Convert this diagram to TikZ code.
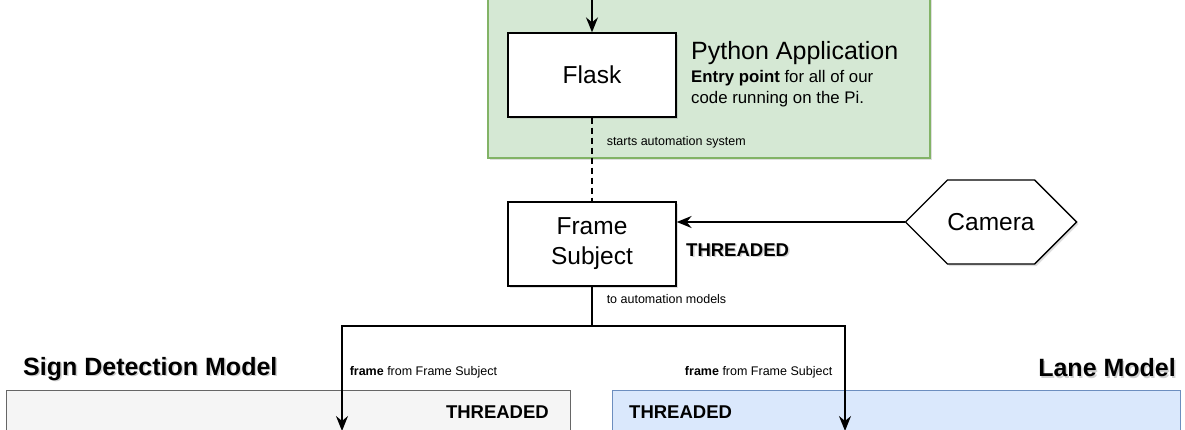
\documentclass[tikz,border=0pt]{standalone}
\usepackage{fontspec}
\setmainfont{Liberation Sans}
\usetikzlibrary{arrows.meta,shapes.symbols,shadows}
\definecolor{grfill}{HTML}{D5E8D4}
\definecolor{grline}{HTML}{82B366}
\definecolor{gyfill}{HTML}{F5F5F5}
\definecolor{gyline}{HTML}{666666}
\definecolor{blfill}{HTML}{DAE8FC}
\definecolor{blline}{HTML}{6C8EBF}
\tikzset{
  shad/.style={drop shadow={opacity=0.25,shadow xshift=2pt,shadow yshift=-2pt}},
  boxnode/.style={draw=black,fill=white,line width=1.3pt,minimum width=168pt,minimum height=84pt,inner sep=0pt,align=center,font=\fontsize{24.5}{30}\selectfont},
  conn/.style={line width=1.5pt,draw=black},
  tip/.style={-{Stealth[length=15pt,width=12pt,inset=5pt]}},
  small/.style={font=\fontsize{12.5}{14}\selectfont,inner sep=0pt},
  thr/.style={font=\fontsize{18.5}{21}\selectfont\bfseries,inner sep=0pt},
  title/.style={font=\fontsize{25}{29}\selectfont\bfseries,inner sep=0pt},
  txtshadow/.style={text=black!18},
}
\begin{document}
\begin{tikzpicture}[x=1pt,y=-1pt]
\useasboundingbox (0,0) rectangle (1185,430);
\clip (0,0) rectangle (1185,430);
% containers
\node[draw=grline,fill=grfill,line width=1.5pt,shad,minimum width=442pt,minimum height=200pt,anchor=south west,inner sep=0pt] (pyapp) at (487,159) {};
\node[draw=gyline,fill=gyfill,line width=1.3pt,minimum width=564pt,minimum height=80pt,anchor=north west,inner sep=0pt] (sign) at (6,390) {};
\node[draw=blline,fill=blfill,line width=1.3pt,minimum width=568pt,minimum height=80pt,anchor=north west,inner sep=0pt] (lane) at (612,390) {};
% nodes
\node[boxnode,shad] (flask) at (592,75) {Flask};
\node[boxnode,shad] (frame) at (592,244) {Frame\\Subject};
\node[draw=black,fill=white,line width=1.3pt,shad,signal,signal to=west and east,signal pointer angle=90,minimum width=168pt,minimum height=84pt,inner sep=0pt,font=\fontsize{24.5}{28}\selectfont] (cam) at (991,222) {Camera};
% texts
\node[anchor=west,inner sep=0pt,font=\fontsize{25}{29}\selectfont] (pytitle) at (691,53) {Python Application};
\node[anchor=north west,inner sep=0pt,align=left,font=\fontsize{16.8}{21}\selectfont] (pydesc) at (691,70) {\textbf{Entry point} for all of our\\code running on the Pi.};
\node[thr,anchor=west,txtshadow] at (687.5,251.5) {THREADED};
\node[thr,anchor=west] (thr1) at (686,250) {THREADED};
\node[title,anchor=west,txtshadow] at (24.5,370.5) {Sign Detection Model};
\node[title,anchor=west] (signt) at (23,369) {Sign Detection Model};
\node[title,anchor=east,txtshadow] at (1177.5,369.5) {Lane Model};
\node[title,anchor=east] (lanet) at (1176,368) {Lane Model};
\node[thr,anchor=east] (thr2) at (549,412) {THREADED};
\node[thr,anchor=west] (thr3) at (629,412) {THREADED};
% connectors
\coordinate (topin) at (592,-5);
\coordinate (split) at (592,326);
\coordinate (signin) at (342,431);
\coordinate (lanein) at (845,431);
\draw[conn,tip] (topin) -- (flask.north);
\draw[conn,dashed,dash pattern=on 6pt off 4pt] (flask.south) -- node[small,anchor=west,pos=0.29,xshift=14pt] {starts automation system} (frame.north);
\draw[conn,tip] (cam.west) -- (cam.west -| frame.east);
\draw[conn] (frame.south) -- node[small,anchor=west,pos=0.32,xshift=14pt] {to automation models} (split);
\draw[conn,tip] (split) -| node[small,anchor=west,pos=0.72,xshift=7pt] {\textbf{frame} from Frame Subject} (signin);
\draw[conn,tip] (split) -| node[small,anchor=east,pos=0.72,xshift=-12pt] {\textbf{frame} from Frame Subject} (lanein);
\end{tikzpicture}
\end{document}
